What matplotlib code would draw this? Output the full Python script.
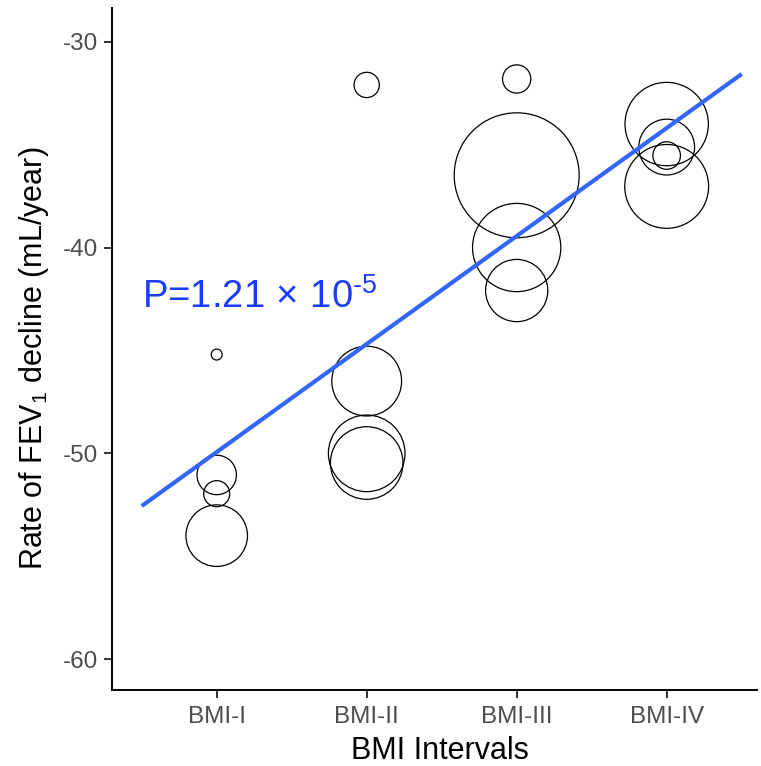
import matplotlib
matplotlib.use("Agg")
import matplotlib.pyplot as plt
import numpy as np

plt.rcParams['font.family'] = ['Liberation Sans', 'DejaVu Sans']
plt.rcParams['mathtext.fontset'] = 'custom'
plt.rcParams['mathtext.rm'] = 'Liberation Sans'
plt.rcParams['mathtext.it'] = 'Liberation Sans:italic'
plt.rcParams['mathtext.bf'] = 'Liberation Sans:bold'

# ---- data ----
categories = ["BMI-I", "BMI-II", "BMI-III", "BMI-IV"]
group_index = [1, 1, 1, 1, 2, 2, 2, 2, 3, 3, 3, 3, 4, 4, 4, 4]
decline_rate = [-45.2, -51.05, -51.96, -54.0,
                -32.1, -46.49, -50.0, -50.47,
                -31.81, -36.49, -40.0, -42.09,
                -34.0, -35.12, -35.53, -37.03]
weight = [3, 39, 17, 95,
          16, 122, 147, 132,
          20, 391, 195, 97,
          174, 78, 19, 176]
fit_x = [0.5, 4.5]
fit_y = [-52.56, -31.57]
y_ticks = [-30, -40, -50, -60]
p_label = r'P=1.21$\,\times\,$10$^{\text{-}5}$'

fig = plt.figure(figsize=(7.61, 7.66), dpi=100)
ax = fig.add_axes([0.1468, 0.0992, 0.8475, 0.8904])

sizes = np.array(weight) * 20.7
ax.scatter(group_index, decline_rate, s=sizes, facecolors='none',
           edgecolors='black', linewidths=0.9, zorder=2)
ax.plot(fit_x, fit_y, color='#3366FF', linewidth=3.0, solid_capstyle='butt', zorder=3)

ax.text(0.5, -42.4, p_label, color='#1a3cff', fontsize=27.5, ha='left', va='center')

ax.set_xlim(0.3, 4.6)
ax.set_ylim(-61.5, -28.36)
ax.set_xticks([1, 2, 3, 4])
ax.set_xticklabels(categories)
ax.set_yticks(y_ticks)
ax.set_yticklabels([str(v) for v in y_ticks])

for side in ['top', 'right']:
    ax.spines[side].set_visible(False)
for side in ['left', 'bottom']:
    ax.spines[side].set_linewidth(1.4)
    ax.spines[side].set_color('black')

ax.tick_params(axis='both', which='major', length=5.5, width=1.4, color='#333333',
               labelcolor='#4D4D4D', labelsize=17.5)
ax.tick_params(axis='x', pad=6)
ax.tick_params(axis='y', pad=4)

ax.set_xlabel('BMI Intervals', fontsize=22, color='black')
ax.set_ylabel('Rate of FEV$_1$ decline (mL/year)', fontsize=22, color='black')
ax.xaxis.set_label_coords(0.509, -0.068)
ax.yaxis.set_label_coords(-0.094, 0.486)

fig.savefig('out.png', dpi=100)
